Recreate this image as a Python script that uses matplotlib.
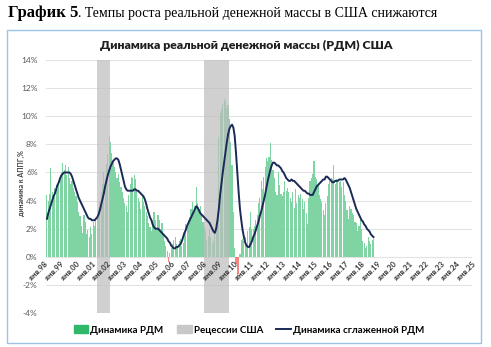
import numpy as np
import matplotlib
matplotlib.use('Agg')
import matplotlib.pyplot as plt
from matplotlib.patches import Rectangle
from matplotlib.lines import Line2D

# monthly real money growth, yoy %, from Jan 1998
rdm_by_year = {
    1998: [4.4, 4.0, 4.5, 6.3, 4.6, 4.2, 4.9, 5.1, 4.8, 5.4, 5.8, 6.0],
    1999: [6.7, 6.2, 6.5, 5.8, 6.4, 5.6, 5.2, 5.4, 4.9, 4.6, 4.3, 3.9],
    2000: [3.2, 2.9, 2.2, 1.7, 3.0, 2.5, 1.6, 1.9, 1.4, 2.1, 1.6, 2.5],
    2001: [2.2, 2.6, 2.9, 3.4, 4.0, 4.6, 5.2, 6.0, 5.6, 6.6, 7.3, 8.6],
    2002: [8.2, 7.4, 6.8, 6.4, 6.0, 5.6, 5.9, 5.3, 5.0, 4.6, 4.2, 3.8],
    2003: [3.6, 3.2, 4.4, 5.2, 5.7, 5.6, 5.8, 5.5, 4.6, 4.2, 3.9, 3.4],
    2004: [4.3, 3.9, 3.6, 3.2, 2.9, 2.4, 2.1, 1.8, 2.6, 3.2, 2.6, 2.0],
    2005: [3.0, 2.6, 2.0, 2.4, 1.6, 1.1, 0.8, 0.4, -0.4, 0.3, 0.6, 0.9],
    2006: [1.2, 1.4, 0.9, 0.7, 1.1, 1.3, 0.8, 1.0, 1.6, 2.3, 2.1, 2.6],
    2007: [2.8, 3.4, 3.9, 3.1, 3.6, 5.0, 3.8, 3.4, 3.6, 3.0, 2.5, 2.1],
    2008: [1.8, 1.2, 1.5, 2.0, 1.4, 0.9, 1.1, 1.6, 2.2, 3.0, 8.5, 10.2],
    2009: [10.5, 10.9, 11.2, 11.1, 10.6, 10.8, 9.8, 8.2, 6.5, 3.2, 0.6, -0.5],
    2010: [-1.6, -1.2, 0.2, 1.2, 1.3, 1.1, 1.4, 0.9, 1.8, 2.1, 3.2, 2.0],
    2011: [2.0, 2.2, 2.6, 3.0, 3.8, 4.2, 5.4, 4.8, 5.7, 6.4, 7.0, 6.8],
    2012: [7.1, 8.1, 6.9, 6.2, 5.6, 4.6, 4.4, 6.0, 5.1, 4.5, 4.3, 4.6],
    2013: [5.4, 4.7, 4.9, 4.6, 4.2, 3.9, 4.6, 3.5, 4.8, 3.8, 4.4, 4.2],
    2014: [4.5, 4.1, 3.4, 3.9, 3.1, 2.3, 4.2, 5.4, 5.6, 5.9, 6.8, 5.7],
    2015: [5.5, 5.1, 4.4, 4.1, 3.9, 3.3, 3.0, 3.8, 4.3, 5.2, 5.4, 5.6],
    2016: [5.5, 6.5, 5.2, 5.5, 5.4, 5.3, 5.4, 5.0, 5.3, 4.4, 4.0, 3.3],
    2017: [2.7, 3.6, 3.4, 3.1, 3.0, 2.5, 2.4, 1.8, 2.2, 2.6, 2.0, 1.1],
    2018: [1.0, 0.6, 0.8, 1.4, 1.1, 0.9, 1.2, 1.3],
}

# smoothed series
smooth_by_year = {
    1998: [2.7, 3.1, 3.4, 3.7, 4.0, 4.3, 4.5, 4.8, 5.1, 5.3, 5.6, 5.8],
    1999: [5.9, 6.0, 6.0, 6.0, 6.0, 6.0, 5.9, 5.7, 5.4, 5.1, 4.8, 4.5],
    2000: [4.2, 4.0, 3.8, 3.6, 3.4, 3.2, 3.0, 2.8, 2.7, 2.7, 2.6, 2.6],
    2001: [2.6, 2.7, 2.8, 3.0, 3.3, 3.7, 4.1, 4.5, 5.0, 5.4, 5.8, 6.1],
    2002: [6.4, 6.6, 6.8, 6.9, 7.0, 7.0, 6.9, 6.6, 6.2, 5.8, 5.4, 5.0],
    2003: [4.8, 4.7, 4.7, 4.7, 4.7, 4.7, 4.8, 4.8, 4.7, 4.7, 4.6, 4.5],
    2004: [4.4, 4.3, 4.1, 3.8, 3.4, 3.1, 2.8, 2.6, 2.3, 2.1, 2.0, 2.0],
    2005: [2.0, 1.9, 1.8, 1.7, 1.6, 1.5, 1.4, 1.3, 1.1, 1.0, 0.8, 0.7],
    2006: [0.6, 0.6, 0.7, 0.7, 0.8, 0.9, 1.1, 1.4, 1.7, 1.9, 2.2, 2.4],
    2007: [2.6, 2.8, 3.0, 3.2, 3.4, 3.6, 3.5, 3.3, 3.1, 3.0, 2.9, 2.8],
    2008: [2.7, 2.6, 2.5, 2.4, 2.2, 2.0, 1.8, 1.7, 2.0, 2.6, 3.4, 4.4],
    2009: [5.2, 6.0, 6.7, 7.4, 8.1, 8.7, 9.1, 9.3, 9.4, 9.2, 8.6, 7.4],
    2010: [6.0, 4.6, 3.4, 2.6, 1.9, 1.4, 1.0, 0.8, 0.7, 0.7, 0.9, 1.1],
    2011: [1.4, 1.6, 1.9, 2.2, 2.5, 2.9, 3.2, 3.6, 4.0, 4.4, 4.9, 5.4],
    2012: [5.8, 6.2, 6.5, 6.7, 6.7, 6.6, 6.5, 6.5, 6.4, 6.3, 6.1, 6.0],
    2013: [5.8, 5.6, 5.5, 5.4, 5.4, 5.5, 5.4, 5.4, 5.3, 5.2, 5.1, 5.0],
    2014: [4.9, 4.8, 4.7, 4.7, 4.6, 4.5, 4.5, 4.4, 4.4, 4.4, 4.6, 4.8],
    2015: [5.0, 5.1, 5.2, 5.3, 5.4, 5.5, 5.5, 5.7, 5.7, 5.6, 5.5, 5.4],
    2016: [5.3, 5.3, 5.4, 5.4, 5.4, 5.5, 5.5, 5.5, 5.5, 5.6, 5.5, 5.3],
    2017: [5.1, 4.9, 4.6, 4.3, 4.0, 3.7, 3.4, 3.2, 3.0, 2.8, 2.6, 2.5],
    2018: [2.3, 2.2, 2.0, 1.9, 1.8, 1.6, 1.5, 1.4],
}

# US recessions, months counted from Jan 1998
recessions = [(38, 47), (119, 137)]

years = list(range(1998, 2026))
tick_labels = ['янв.%02d' % (y % 100) for y in years]

rdm = np.array([v for y in sorted(rdm_by_year) for v in rdm_by_year[y]])
smooth = np.array([v for y in sorted(smooth_by_year) for v in smooth_by_year[y]])
months = np.arange(len(rdm))

fig = plt.figure(figsize=(4.91, 3.47), dpi=100)
W, H = 491, 347

# header line: bold part then regular part right after it
t1 = fig.text(8 / W, 1 - 13 / H, 'График 5', family='Liberation Serif', weight='bold',
              fontsize=12, va='center', ha='left')
fig.canvas.draw()
x_end = t1.get_window_extent().x1
fig.text(x_end / W, 1 - 13 / H, '. Темпы роста реальной денежной массы в США снижаются',
         family='Liberation Serif', fontsize=10, va='center', ha='left')

fig.patches.append(Rectangle((7 / W, 1 - 343 / H), 474 / W, 313 / H, transform=fig.transFigure,
                             fill=False, edgecolor='#9dc3e6', lw=1.0))

fig.text(246 / W, 1 - 45 / H, 'Динамика реальной денежной массы (РДМ) США', family='Lato',
         weight='heavy', fontsize=8.8, ha='center', va='center', color='#1f1f1f')

ax = fig.add_axes([46 / W, 1 - 313 / H, 426 / W, 253 / H])
ax.set_xlim(-0.7, 321.5)
ax.set_ylim(-4, 14)

colors = ['#80d4a3' if v >= 0 else '#f4857f' for v in rdm]
ax.bar(months, rdm, width=0.85, color=colors, zorder=2, linewidth=0)
for a, b in recessions:
    ax.axvspan(a - 0.5, b + 0.5, color='#bdbdbd', alpha=0.7, lw=0, zorder=3)
ax.plot(months, smooth, color='#1b2a57', lw=1.4, zorder=4)

yt = np.arange(-4, 15, 2)
ax.set_yticks(yt)
ax.set_yticklabels(['%d%%' % v for v in yt], family='Lato', fontsize=6, color='#595959')
ax.tick_params(axis='y', length=0, pad=6)
ax.grid(axis='y', color='#e3e3e3', lw=0.8, zorder=0)
ax.set_xticks([])
for s in ax.spines.values():
    s.set_visible(False)

for i, lab in enumerate(tick_labels):
    ax.annotate(lab, xy=(i * 12, 0), xytext=(-3, -4), textcoords='offset pixels',
                rotation=45, rotation_mode='anchor', ha='right', va='top',
                family='Lato', weight='bold', fontsize=5.5, color='#333333',
                annotation_clip=False)

fig.text(21 / W, 1 - 183 / H, 'динамика к АППГ,%', rotation=90, family='Lato', weight='bold',
         fontsize=5, ha='center', va='center', color='#404040')

handles = [Rectangle((0, 0), 1, 1, color='#2fb86a'),
           Rectangle((0, 0), 1, 1, color='#c8c8c8'),
           Line2D([], [], color='#1b2a57', lw=1.4)]
names = ['Динамика РДМ', 'Рецессии США', 'Динамика сглаженной РДМ']
fig.legend(handles, names, loc='center', bbox_to_anchor=(249 / W, 1 - 330 / H), ncol=3,
           frameon=False, prop={'family': 'Lato', 'weight': 'bold', 'size': 7},
           handlelength=1.5, handleheight=0.9, handletextpad=0.2, columnspacing=1.4)

fig.savefig('out.png', dpi=100)
